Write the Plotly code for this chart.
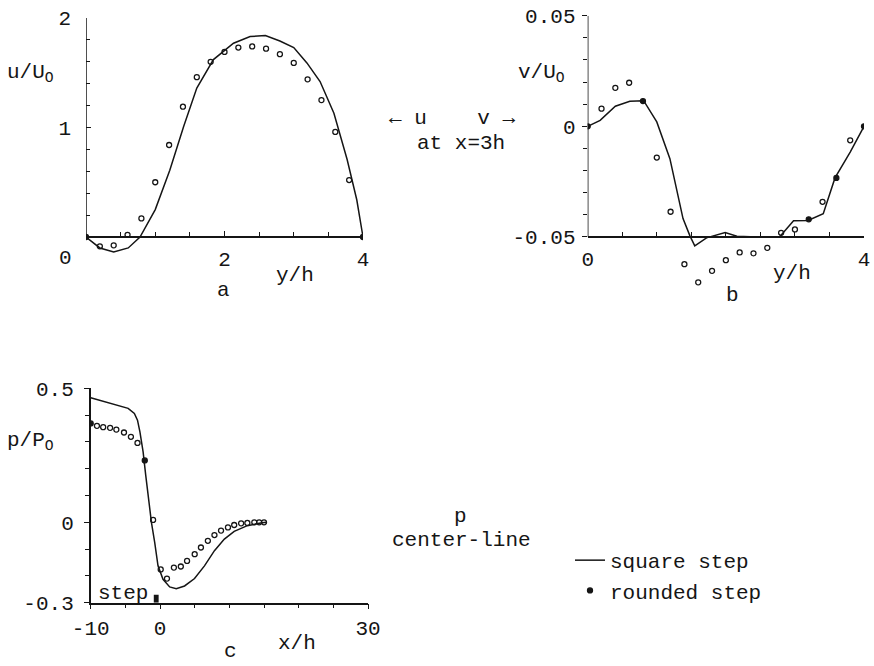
import plotly.graph_objects as go

# ---------------- data ----------------
# panel a : u/Uo vs y/h at x = 3h
A_LINE_Y = [0, 0.2, 0.4, 0.61, 0.78, 1.0, 1.21, 1.41, 1.6, 1.84, 2.13, 2.37, 2.59, 2.8, 3.0, 3.19, 3.38, 3.58, 3.77, 3.91, 4.0]
A_LINE_U = [0, -0.1, -0.137, -0.10, 0, 0.25, 0.61, 1.01, 1.36, 1.62, 1.77, 1.83, 1.84, 1.79, 1.73, 1.59, 1.42, 1.13, 0.71, 0.34, 0]
A_PTS_Y = [0, 0.2, 0.4, 0.6, 0.8, 1.0, 1.2, 1.4, 1.6, 1.8, 2.0, 2.2, 2.4, 2.6, 2.8, 3.0, 3.2, 3.4, 3.6, 3.8, 4.0]
A_PTS_U = [0, -0.085, -0.076, 0.02, 0.17, 0.50, 0.84, 1.19, 1.46, 1.60, 1.69, 1.73, 1.74, 1.72, 1.67, 1.59, 1.44, 1.25, 0.96, 0.52, 0]
A_FILLED = [0, 20]

# panel b : v/Uo vs y/h at x = 3h
B_LINE_Y = [0, 0.18, 0.40, 0.61, 0.81, 1.0, 1.19, 1.38, 1.48, 1.55, 1.72, 1.99, 2.16, 2.45, 2.78, 2.98, 3.19, 3.41, 3.58, 3.80, 4.0]
B_LINE_V = [0, 0.0027, 0.0091, 0.0113, 0.0116, 0.002, -0.0146, -0.0417, -0.0495, -0.054, -0.0504, -0.048, -0.0497, -0.050, -0.0499, -0.0427, -0.0425, -0.0395, -0.0233, -0.0116, 0]
B_PTS_Y = [0, 0.2, 0.4, 0.6, 0.8, 1.0, 1.2, 1.4, 1.6, 1.8, 2.0, 2.2, 2.4, 2.6, 2.8, 3.0, 3.2, 3.4, 3.6, 3.8, 4.0]
B_PTS_V = [0, 0.0080, 0.0174, 0.0197, 0.0114, -0.0141, -0.0386, -0.0623, -0.0705, -0.0653, -0.0605, -0.057, -0.0574, -0.0549, -0.0481, -0.0466, -0.042, -0.0341, -0.0233, -0.0063, 0]
B_FILLED = [0, 4, 16, 18, 20]

# panel c : centre-line pressure p/Po vs x/h
C_LINE_X = [-10, -7.94, -6.0, -4.6, -3.7, -3.25, -2.9, -2.44, -2.06, -1.58, -1.24, -0.77, -0.29, 0.43, 1.39, 2.34, 3.54, 4.98, 6.41, 7.85, 9.28, 10.7, 12.6, 14.5, 15.3]
C_LINE_P = [0.465, 0.45, 0.4375, 0.425, 0.406, 0.381, 0.3375, 0.2625, 0.175, 0.075, 0, -0.075, -0.1625, -0.2125, -0.241, -0.2475, -0.2375, -0.21, -0.1625, -0.106, -0.0625, -0.034, -0.0125, -0.0025, 0]
C_PTS_X = [-10, -9.1, -8.2, -7.2, -6.3, -5.2, -4.2, -3.25, -2.2, -1.0, 0.1, 1.0, 2.0, 3.0, 3.9, 5.0, 5.9, 6.9, 7.85, 8.8, 9.8, 10.7, 11.7, 12.6, 13.6, 14.3, 15.0]
C_PTS_P = [0.369, 0.36, 0.355, 0.3525, 0.346, 0.335, 0.319, 0.296, 0.231, 0.009, -0.176, -0.21, -0.169, -0.165, -0.144, -0.119, -0.094, -0.069, -0.0475, -0.031, -0.019, -0.01, -0.004, -0.0025, 0, 0, 0]
C_FILLED = [0, 8]

# step marker on panel c
STEP_X = [-0.9, -0.2]
STEP_P = [-0.3, -0.27]

# tick labels
A_XTICKS, A_YTICKS = [2, 4], [1, 2]
B_XTICKS, B_YTICKS = [0, 4], [0.05, 0, -0.05]
B_YTICKTEXT = ["0.05", "0", "-0.05"]
C_XTICKS, C_YTICKS = [-10, 0, 30], [-0.3, 0, 0.5]
C_YTICKTEXT = ["-0.3", "0", "0.5"]

SERIES = ["square step", "rounded step"]

# ---------------- styling ----------------
W, H = 874, 666
INK = "#151515"
FONT = "Liberation Mono"
FS = 21


def fx(p):
    return p / W


def fy(p):
    return 1 - p / H


def symbols(n, filled):
    return ["circle" if i in filled else "circle-open" for i in range(n)]


fig = go.Figure()

line_style = dict(color=INK, width=1.5)


def add_panel(xs, ys, px, py, filled, xa, ya, legend):
    fig.add_trace(go.Scatter(x=xs, y=ys, mode="lines", line=line_style, name=SERIES[0],
                             xaxis=xa, yaxis=ya, showlegend=legend, legendrank=1))
    fig.add_trace(go.Scatter(x=px, y=py, mode="markers", name=SERIES[1],
                             marker=dict(symbol=symbols(len(px), filled), size=5, color=INK,
                                         line=dict(color=INK, width=1.3)),
                             xaxis=xa, yaxis=ya, showlegend=legend, legendrank=2))


add_panel(A_LINE_Y, A_LINE_U, A_PTS_Y, A_PTS_U, A_FILLED, "x", "y", False)
add_panel(B_LINE_Y, B_LINE_V, B_PTS_Y, B_PTS_V, B_FILLED, "x2", "y2", False)
add_panel(C_LINE_X, C_LINE_P, C_PTS_X, C_PTS_P, C_FILLED, "x3", "y3", True)

tickfont = dict(family=FONT, size=FS, color=INK)
base = dict(showgrid=False, zeroline=False, linecolor=INK, linewidth=1.5, automargin=False,
            tickcolor=INK, tickwidth=1.3, tickfont=tickfont, fixedrange=True)


def minor(vals, ticks, ln):
    return dict(tickmode="array", tickvals=vals, ticks=ticks, ticklen=ln,
                tickcolor=INK, tickwidth=1.2)


fig.update_layout(
    width=W, height=H, autosize=False,
    margin=dict(l=0, r=0, t=0, b=0, pad=0, autoexpand=False),
    paper_bgcolor="white", plot_bgcolor="rgba(0,0,0,0)",
    font=dict(family=FONT, size=FS, color=INK),
    # panel a
    xaxis=dict(base, domain=[fx(86), fx(363)], range=[0, 4], anchor="free", position=fy(237),
               showline=True, ticks="inside", ticklen=5, tickmode="array", tickvals=A_XTICKS,
               ticktext=[str(v) for v in A_XTICKS], ticklabelstandoff=3,
               minor=minor([0.5 * i for i in range(9)], "inside", 4)),
    yaxis=dict(base, domain=[fy(257.8), fy(18)], range=[-0.19, 2], anchor="x",
               showline=False, ticks="inside", ticklen=5, tickmode="array", tickvals=A_YTICKS,
               ticktext=[str(v) for v in A_YTICKS], ticklabelstandoff=14,
               minor=minor([0.2 * i for i in range(11)], "inside", 4)),
    # panel b
    xaxis2=dict(base, domain=[fx(587.7), fx(864)], range=[0, 4], anchor="free", position=fy(237),
                showline=True, ticks="inside", ticklen=5, tickmode="array", tickvals=B_XTICKS,
                ticktext=[str(v) for v in B_XTICKS], ticklabelstandoff=3,
                minor=minor([0.5 * i for i in range(9)], "inside", 4)),
    yaxis2=dict(base, domain=[fy(292.3), fy(15.7)], range=[-0.075, 0.05], anchor="x2",
                showline=False, ticks="outside", ticklen=5, tickmode="array", tickvals=B_YTICKS,
                ticktext=B_YTICKTEXT, ticklabelstandoff=2,
                minor=minor([round(-0.05 + 0.01 * i, 3) for i in range(11)], "outside", 4)),
    # panel c
    xaxis3=dict(base, domain=[fx(90.7), fx(368)], range=[-10, 30], anchor="y3",
                showline=True, ticks="outside", ticklen=5, tickmode="array", tickvals=C_XTICKS,
                ticktext=[str(v) for v in C_XTICKS], ticklabelstandoff=0,
                minor=minor([-10 + 5 * i for i in range(9)], "outside", 4)),
    yaxis3=dict(base, domain=[fy(602.7), fy(388.3)], range=[-0.3, 0.5], anchor="x3",
                showline=True, ticks="outside", ticklen=5, tickmode="array", tickvals=C_YTICKS,
                ticktext=C_YTICKTEXT, ticklabelstandoff=6,
                minor=minor([round(-0.3 + 0.1 * i, 2) for i in range(9)], "outside", 4)),
    legend=dict(x=fx(570), y=fy(540), xanchor="left", yanchor="top",
                font=dict(family=FONT, size=FS, color=INK), bgcolor="rgba(0,0,0,0)",
                borderwidth=0, tracegroupgap=0, itemwidth=30),
    showlegend=True,
)

# partial y-axis lines (a, b) and the step indicator (c)
fig.add_shape(type="line", xref="x", yref="y", x0=0, x1=0, y0=0, y1=2, line=dict(color=INK, width=1.5))
fig.add_shape(type="line", xref="x2", yref="y2", x0=0, x1=0, y0=-0.05, y1=0.05, line=dict(color=INK, width=1.5))
fig.add_shape(type="rect", xref="x3", yref="y3", x0=STEP_X[0], x1=STEP_X[1], y0=STEP_P[0], y1=STEP_P[1],
              line=dict(width=0), fillcolor=INK)


def note(text, cx, cy, size=FS, **kw):
    fig.add_annotation(text=text, x=fx(cx), y=fy(cy), xref="paper", yref="paper",
                       showarrow=False, xanchor="center", yanchor="middle",
                       font=dict(family=FONT, size=size, color=INK), **kw)


note("0", 65, 258)
note("u/U<sub>O</sub>", 31, 73)
note("y/h", 295, 275)
note("a", 223, 290)
note("v/U<sub>O</sub>", 541, 73)
note("y/h", 792, 273)
note("b", 732, 295)
note("p/P<sub>O</sub>", 31, 441)
note("x/h", 297, 643)
note("c", 230, 651)
note("step", 123, 593)
note("←\u00a0u\u00a0\u00a0\u00a0\u00a0v\u00a0→", 452, 118)
note("at x=3h", 461, 143)
note("p", 460, 516)
note("center-line", 462, 540)

fig.write_html("out.html")
